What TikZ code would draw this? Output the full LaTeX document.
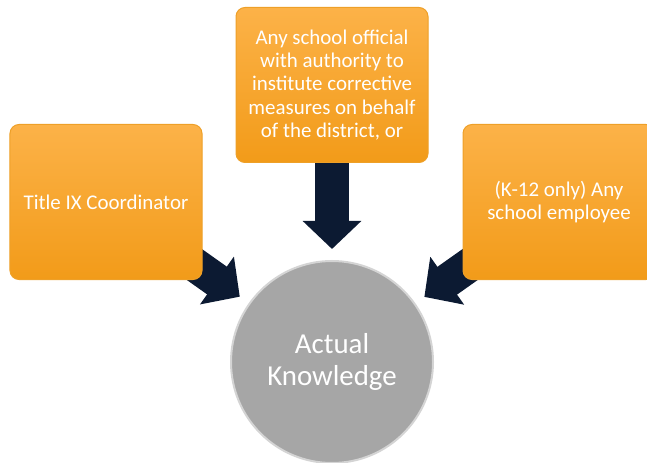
\documentclass[tikz,border=0pt]{standalone}
\usepackage{fontspec}
\setmainfont{Carlito}
\usetikzlibrary{arrows.meta,backgrounds}

\begin{document}
\begin{tikzpicture}[x=1bp,y=-1bp,
  box/.style={draw=boxedge, line width=1bp, rounded corners=9bp, top color=boxtop, bottom color=boxbot,
    minimum width=192bp, minimum height=155bp, inner sep=0pt, text=white, align=center,
    font=\fontsize{21}{23.5}\selectfont},
  knowcircle/.style={circle, fill=knowgray, draw=knowrim, line width=2bp, minimum size=202bp,
    inner sep=0pt, text=white, align=center, font=\fontsize{29}{33}\selectfont},
  fatarrow/.style={line width=34bp, arrowblue, -{Triangle[width=57bp,length=28bp]},
    shorten >=11bp, shorten <=-20bp}]

% Colors
\definecolor{boxtop}{RGB}{252,178,72}   % light orange
\definecolor{boxbot}{RGB}{242,155,25}   % dark orange
\definecolor{boxedge}{RGB}{238,160,40}
\definecolor{knowgray}{RGB}{166,166,166}
\definecolor{knowrim}{RGB}{212,212,212}
\definecolor{arrowblue}{RGB}{12,26,50}  % navy

\useasboundingbox (0,0) rectangle (647,463);

% === Boxes ===
\node[box] (coord) at (106,202) {Title IX Coordinator};
\node[box] (official) at (332,85) {Any school official\\with authority to\\institute corrective\\measures on behalf\\of the district, or};
\node[box] (employee) at (559,202) {(K-12 only) Any\\school employee};

% === Circle ===
\node[knowcircle] (know) at (332,362) {Actual\\Knowledge};

% === Arrows ===
\begin{pgfonlayer}{background}
\draw[fatarrow] (coord) -- (know);
\draw[fatarrow] (official) -- (know);
\draw[fatarrow] (employee) -- (know);
\end{pgfonlayer}

\end{tikzpicture}
\end{document}
